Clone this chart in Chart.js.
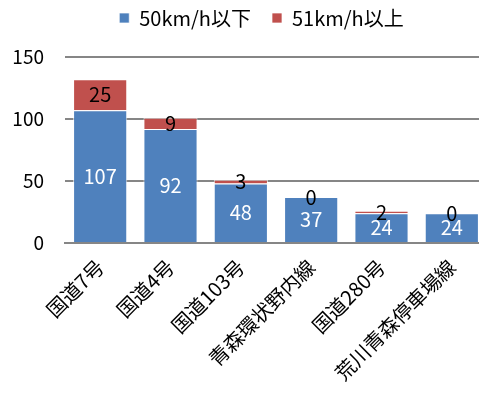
<!DOCTYPE html>
<html>
<head>
<meta charset="utf-8">
<script src="https://cdn.jsdelivr.net/npm/chart.js@4"></script>
<style>
  body { margin: 0; overflow: hidden; background: #fff; }
  #wrap { width: 487px; height: 394px; }
</style>
</head>
<body>
<div id="wrap"><canvas id="chart"></canvas></div>
<script>
// data
const categories = ['国道7号', '国道4号', '国道103号', '青森環状野内線', '国道280号', '荒川青森停車場線'];
const under50 = [107, 92, 48, 37, 24, 24];
const over51 = [25, 9, 3, 0, 2, 0];
const seriesNames = ['50km/h以下', '51km/h以上'];
const yTicks = [0, 50, 100, 150];

const FONT = "'Noto Sans CJK JP', 'Noto Sans', sans-serif";

// value labels in the middle of each segment
const segmentLabels = {
    id: 'segmentLabels',
    beforeLayout(chart) {
        // more room under the legend
        const legend = chart.legend;
        if (legend && !legend._tallFit) {
            const fit = legend.fit;
            legend.fit = function () {
                fit.call(this);
                this.height += 19;
            };
            legend._tallFit = true;
        }
    },
    afterLayout(chart) {
        // nudge legend to the right a bit
        chart.legend.left += 18;
        chart.legend.right += 18;
    },
    afterDatasetsDraw(chart) {
        const ctx = chart.ctx;
        ctx.save();
        ctx.font = '20px ' + FONT;
        ctx.textAlign = 'center';
        ctx.textBaseline = 'middle';
        chart.data.datasets.forEach((ds, i) => {
            const meta = chart.getDatasetMeta(i);
            ctx.fillStyle = i === 0 ? '#ffffff' : '#000000';
            meta.data.forEach((bar, j) => {
                const y = (bar.y + bar.base) / 2;
                ctx.fillText(String(ds.data[j]), bar.x, y);
            });
        });
        ctx.restore();
    }
};

new Chart(document.getElementById('chart'), {
    type: 'bar',
    data: {
        labels: categories,
        datasets: [{
            label: seriesNames[0],
            data: under50,
            backgroundColor: '#4F81BD',
            borderColor: 'rgba(255,255,255,0.7)',
            borderWidth: 1,
            barPercentage: 0.77,
            categoryPercentage: 1
        }, {
            label: seriesNames[1],
            data: over51,
            backgroundColor: '#C0504D',
            borderColor: 'rgba(255,255,255,0.7)',
            borderWidth: 1,
            barPercentage: 0.77,
            categoryPercentage: 1
        }]
    },
    options: {
        responsive: true,
        maintainAspectRatio: false,
        animation: false,
        layout: { padding: { top: -13, left: 0, right: 0, bottom: 5 } },
        plugins: {
            legend: {
                position: 'top',
                labels: {
                    font: { family: FONT, size: 20 },
                    color: '#000',
                    boxWidth: 10,
                    boxHeight: 10,
                    padding: 21
                }
            },
            tooltip: { enabled: false }
        },
        scales: {
            x: {
                stacked: true,
                grid: { display: false },
                border: { color: '#868686', width: 2 },
                ticks: {
                    font: { family: FONT, size: 20 },
                    color: '#000',
                    maxRotation: 45,
                    minRotation: 45,
                    padding: 4
                },
                afterFit(axis) {
                    axis.paddingLeft = 0;
                    axis.paddingRight = 0;
                }
            },
            y: {
                stacked: true,
                min: 0,
                max: 150,
                afterBuildTicks(axis) {
                    axis.ticks = yTicks.map(v => ({ value: v }));
                },
                afterFit(axis) {
                    axis.width = 65;
                },
                grid: { color: '#868686', lineWidth: 2, drawTicks: false },
                border: { display: false },
                ticks: {
                    font: { family: FONT, size: 19 },
                    color: '#000',
                    padding: 21
                }
            }
        }
    },
    plugins: [segmentLabels]
});
</script>
</body>
</html>
